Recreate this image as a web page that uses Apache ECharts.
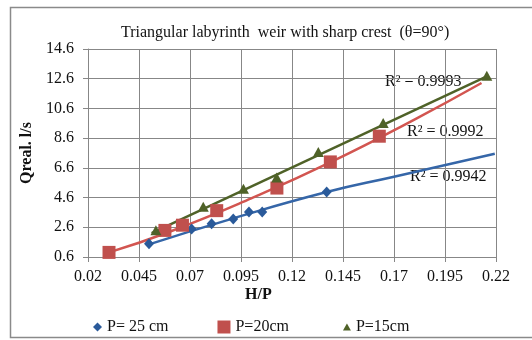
<!DOCTYPE html>
<html><head><meta charset="utf-8">
<script src="https://cdn.jsdelivr.net/npm/echarts@6/dist/echarts.min.js"></script>
<style>html,body{margin:0;padding:0;background:#fff}#c{width:532px;height:340px}</style>
</head><body><div id="c"></div>
<script>
// ---- data ----
const xTickLabels = ['0.02','0.045','0.07','0.095','0.12','0.145','0.17','0.195','0.22'];
const yTickLabels = ['0.6','2.6','4.6','6.6','8.6','10.6','12.6','14.6'];
const seriesNames = ['P= 25 cm','P=20cm','P=15cm'];
const p25 = [[0.0499,1.50],[0.0708,2.48],[0.0806,2.84],[0.0912,3.16],[0.0989,3.63],[0.1054,3.63],[0.137,4.97]];
const p20 = [[0.0303,0.91],[0.0577,2.39],[0.0663,2.74],[0.0831,3.72],[0.1126,5.24],[0.1388,7.00],[0.1628,8.73]];
const p15 = [[0.0533,2.40],[0.0765,3.99],[0.0962,5.20],[0.1125,5.95],[0.1329,7.67],[0.1647,9.62],[0.2155,12.8]];
// trendlines
const trend25 = [[0.0499,1.45],[0.09,3.15],[0.137,4.97],[0.17,6.0],[0.2194,7.55]];
const trend20 = [[0.0303,0.91],[0.06,2.3],[0.1,4.55],[0.14,7.05],[0.18,9.85],[0.2129,12.31]];
const trend15 = [[0.0512,2.2],[0.2155,12.75]];
const r2Labels = ['R² = 0.9993','R² = 0.9992','R² = 0.9942'];
const titleText = 'Triangular labyrinth  weir with sharp crest  (θ=90°)';
const xName = 'H/P', yName = 'Qreal. l/s';

// axis origin offsets (ticks start at these values)
const X0 = 0.02, XSTEP = 0.025, Y0 = 0.6, YSTEP = 2;
const sh = a => a.map(p => [p[0] - X0, p[1] - Y0]);

const FONT = 'Liberation Serif';
const GRID = '#878787';
const cBlue = '#2a5a9a', cBlueLine = '#3566a8';
const cRed = '#c0504d', cRedLine = '#d25550';
const cGreen = '#4f6228';

const chart = echarts.init(document.getElementById('c'), null, {renderer:'canvas'});
chart.setOption({
  animation:false,
  backgroundColor:'#fff',
  textStyle:{fontFamily:FONT},
  title:{text:titleText,left:116,top:20,textStyle:{fontFamily:FONT,fontSize:16,fontWeight:'normal',color:'#111'}},
  grid:{left:88,right:36,top:49,bottom:83},
  xAxis:{type:'value',min:0,max:0.2,interval:XSTEP,
    axisLine:{lineStyle:{color:GRID}},
    axisTick:{show:true,length:5,lineStyle:{color:GRID}},
    splitLine:{show:true,lineStyle:{color:GRID,width:1}},
    axisLabel:{margin:12,fontFamily:FONT,fontSize:16,color:'#111',
      formatter:v=>xTickLabels[Math.round(v/XSTEP)]}},
  yAxis:{type:'value',min:0,max:14,interval:YSTEP,
    name:yName,nameLocation:'middle',nameGap:47,
    nameTextStyle:{fontFamily:FONT,fontSize:16,fontWeight:'bold',color:'#111'},
    axisLine:{show:true,lineStyle:{color:GRID}},
    axisTick:{show:true,length:5,lineStyle:{color:GRID}},
    splitLine:{show:true,lineStyle:{color:GRID,width:1}},
    axisLabel:{margin:14,fontFamily:FONT,fontSize:16,color:'#111',
      formatter:v=>yTickLabels[Math.round(v/YSTEP)]}},
  legend:{left:83,top:314,itemWidth:14,itemHeight:14,itemGap:48,
    textStyle:{fontFamily:FONT,fontSize:16,color:'#111'},
    data:[
      {name:seriesNames[0],icon:'path://M0,0M14,14M9.5,2.5L14,7L9.5,11.5L5,7Z'},
      {name:seriesNames[1],icon:'path://M0,0M14,14M1,0.5L14,0.5L14,13.5L1,13.5Z'},
      {name:seriesNames[2],icon:'path://M0,0M14,14M10,3.5L14,10.5L6,10.5Z'}
    ]},
  graphic:[
    {type:'rect',z:-10,shape:{x:10.5,y:7.5,width:540,height:330},style:{fill:'#fff',stroke:'#8a8a8a',lineWidth:1.5}},
    {type:'text',left:245,top:287,style:{text:xName,font:'bold 16px "Liberation Serif"',fill:'#111'}},
    {type:'text',left:385,top:74,style:{text:r2Labels[0],font:'16px "Liberation Serif"',fill:'#111'}},
    {type:'text',left:407,top:124,style:{text:r2Labels[1],font:'16px "Liberation Serif"',fill:'#111'}},
    {type:'text',left:410,top:169,style:{text:r2Labels[2],font:'16px "Liberation Serif"',fill:'#111'}}
  ],
  series:[
    {type:'line',data:sh(trend25),smooth:true,showSymbol:false,symbol:'none',lineStyle:{color:cBlueLine,width:2.5},z:2,silent:true},
    {type:'line',data:sh(trend20),smooth:true,showSymbol:false,symbol:'none',lineStyle:{color:cRedLine,width:2.5},z:2,silent:true},
    {type:'line',data:sh(trend15),smooth:false,showSymbol:false,symbol:'none',lineStyle:{color:cGreen,width:2.5},z:2,silent:true},
    {name:seriesNames[0],type:'scatter',data:sh(p25),symbol:'diamond',symbolSize:[10,11],itemStyle:{color:cBlue,opacity:1},z:5},
    {name:seriesNames[1],type:'scatter',data:sh(p20),symbol:'rect',symbolSize:13,itemStyle:{color:cRed,opacity:1},z:6},
    {name:seriesNames[2],type:'scatter',data:sh(p15),symbol:'triangle',symbolSize:[11,10],itemStyle:{color:cGreen,opacity:1},z:7}
  ]
});
</script></body></html>
